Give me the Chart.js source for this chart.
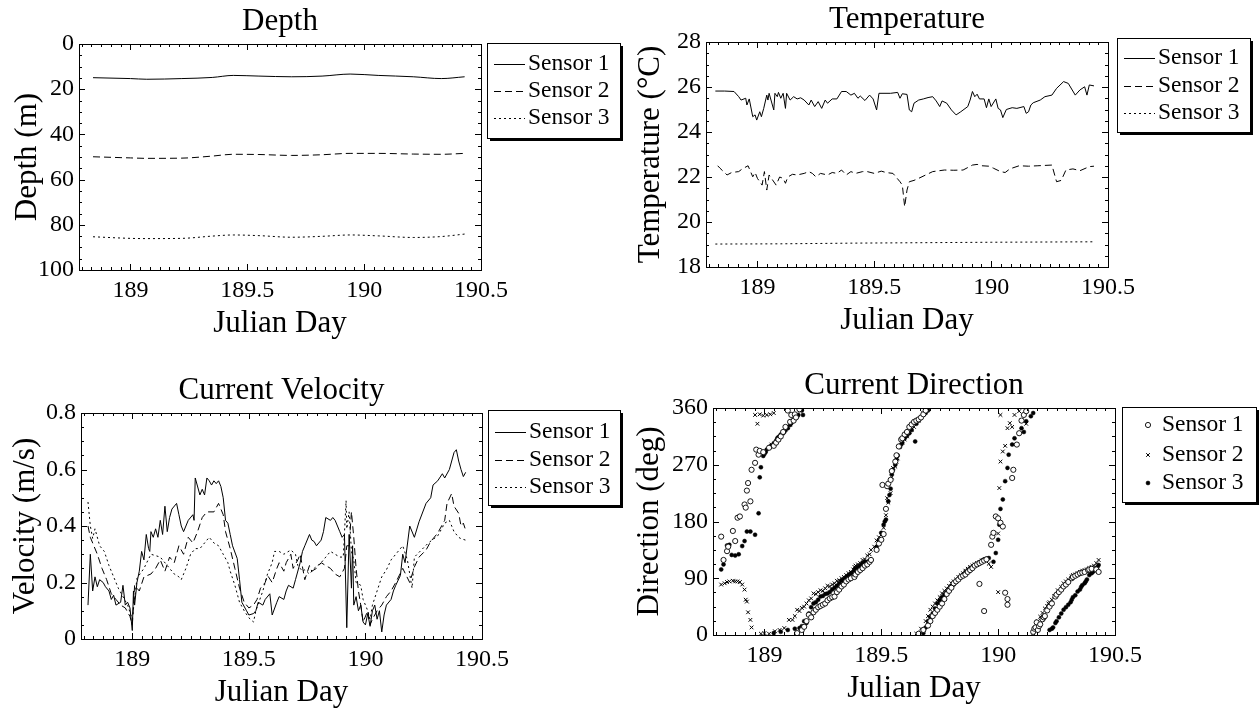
<!DOCTYPE html>
<html>
<head>
<meta charset="utf-8">
<title>Mooring sensors, Julian Day 189-190</title>
<script src="https://cdn.jsdelivr.net/npm/chart.js@4.4.1/dist/chart.umd.min.js"></script>
<style>
  html, body { margin: 0; padding: 0; background: #fff; }
  #wrap { position: relative; width: 1260px; height: 709px; background: #fff; }
  #wrap canvas { position: absolute; }
</style>
</head>
<body>
<div id="wrap">
  <canvas id="depth" width="630" height="354" style="left:0;top:0"></canvas>
  <canvas id="temp" width="630" height="354" style="left:630px;top:0"></canvas>
  <canvas id="speed" width="630" height="355" style="left:0;top:354px"></canvas>
  <canvas id="dir" width="630" height="355" style="left:630px;top:354px"></canvas>
</div>
<script>
// ---- axis ranges and tick labels ----
const dayMin = 188.78, dayMax = 190.5;
const dayTicks = [189, 189.5, 190, 190.5];
const depthTicks = [0, 20, 40, 60, 80, 100];
const tempTicks = [18, 20, 22, 24, 26, 28];
const speedTicks = [0, 0.2, 0.4, 0.6, 0.8];
const dirTicks = [0, 90, 180, 270, 360];
const sensorNames = ['Sensor 1', 'Sensor 2', 'Sensor 3'];

// ---- depth (m), smooth records ----
const depthDays = [188.84, 189.0, 189.07, 189.22, 189.35, 189.44, 189.55, 189.69, 189.82, 189.94, 190.06, 190.21, 190.33, 190.43];
const depthS1 = [14.9, 15.3, 15.6, 15.3, 14.8, 13.9, 14.2, 14.5, 14.2, 13.3, 13.9, 14.5, 15.3, 14.5];
const depthS2 = [49.9, 50.4, 50.6, 50.5, 49.6, 48.8, 48.9, 49.3, 49.0, 48.4, 48.4, 48.7, 48.8, 48.4];
const depthS3 = [85.3, 86.0, 86.1, 86.0, 85.0, 84.5, 84.8, 85.5, 85.1, 84.5, 84.9, 85.6, 85.2, 84.1];

// ---- temperature (deg C), [day, value] ----
const tempS1 = [
  [188.82, 25.82], [188.86, 25.82], [188.90, 25.80], [188.92, 25.57], [188.93, 25.42], [188.95, 25.50],
  [188.955, 25.20], [188.965, 25.47], [188.98, 24.68], [188.99, 24.76], [188.997, 24.53], [189.01, 24.90],
  [189.017, 24.68], [189.027, 25.05], [189.04, 25.64], [189.045, 25.42], [189.05, 25.72], [189.07, 24.98],
  [189.075, 25.72], [189.085, 25.57], [189.09, 25.76], [189.10, 25.50], [189.11, 25.72], [189.12, 25.05],
  [189.125, 25.72], [189.14, 25.42], [189.155, 25.57], [189.17, 25.47], [189.185, 25.52], [189.20, 25.42],
  [189.22, 25.20], [189.23, 25.42], [189.245, 25.13], [189.26, 25.35], [189.275, 25.05], [189.29, 25.42],
  [189.30, 25.28], [189.32, 25.47], [189.34, 25.47], [189.36, 25.80], [189.38, 25.80], [189.40, 25.64],
  [189.415, 25.72], [189.43, 25.50], [189.44, 25.60], [189.46, 25.40], [189.48, 25.64], [189.495, 25.47],
  [189.51, 24.98], [189.52, 25.72], [189.57, 25.72], [189.60, 25.76], [189.61, 25.50], [189.62, 25.70],
  [189.64, 25.67], [189.65, 24.98], [189.66, 24.90], [189.67, 25.28], [189.69, 25.42], [189.71, 25.47],
  [189.73, 25.53], [189.75, 25.57], [189.765, 25.38], [189.78, 25.13], [189.79, 25.38], [189.81, 25.28],
  [189.83, 24.98], [189.85, 24.76], [189.87, 24.90], [189.90, 25.13], [189.91, 25.42], [189.92, 25.80],
  [189.93, 25.57], [189.94, 25.68], [189.95, 25.47], [189.97, 25.47], [189.98, 25.08], [189.99, 25.47],
  [190.0, 25.13], [190.02, 25.47], [190.03, 25.05], [190.04, 24.98], [190.05, 24.64], [190.065, 25.00],
  [190.09, 25.08], [190.11, 25.05], [190.14, 25.13], [190.15, 24.83], [190.16, 24.90], [190.17, 25.20],
  [190.18, 25.30], [190.21, 25.42], [190.23, 25.57], [190.26, 25.64], [190.28, 25.94], [190.31, 26.24],
  [190.33, 26.16], [190.36, 25.64], [190.38, 25.87], [190.40, 26.01], [190.41, 25.64], [190.42, 26.09],
  [190.44, 26.05]
];
const tempS2 = [
  [188.83, 22.50], [188.84, 22.39], [188.87, 22.09], [188.89, 22.20], [188.92, 22.24], [188.935, 22.36],
  [188.96, 22.50], [188.98, 22.01], [188.99, 22.20], [189.0, 21.94], [189.02, 21.64], [189.03, 22.24],
  [189.04, 21.42], [189.05, 22.09], [189.06, 21.94], [189.08, 21.64], [189.095, 22.00], [189.11, 21.94],
  [189.12, 21.72], [189.13, 22.00], [189.15, 22.12], [189.17, 22.09], [189.20, 22.16], [189.22, 22.24],
  [189.235, 22.16], [189.25, 22.01], [189.27, 22.16], [189.30, 22.09], [189.32, 22.20], [189.34, 22.16],
  [189.36, 22.31], [189.38, 22.09], [189.40, 22.24], [189.42, 22.16], [189.45, 22.24], [189.47, 22.24],
  [189.50, 22.16], [189.53, 22.26], [189.55, 22.20], [189.58, 22.16], [189.61, 21.79], [189.62, 21.64],
  [189.63, 20.68], [189.64, 21.42], [189.65, 21.79], [189.67, 21.85], [189.69, 21.94], [189.72, 22.09],
  [189.75, 22.24], [189.80, 22.31], [189.84, 22.30], [189.88, 22.31], [189.92, 22.53], [189.94, 22.56],
  [189.96, 22.50], [189.99, 22.48], [190.01, 22.39], [190.04, 22.24], [190.06, 22.20], [190.08, 22.36],
  [190.12, 22.50], [190.16, 22.48], [190.20, 22.50], [190.26, 22.53], [190.28, 21.79], [190.30, 21.85],
  [190.32, 22.31], [190.35, 22.36], [190.38, 22.28], [190.42, 22.46], [190.44, 22.48]
];
const tempS3 = [[188.82, 19.02], [189.1, 19.03], [189.4, 19.06], [189.7, 19.08], [190.0, 19.10], [190.44, 19.12]];

// ---- current speed (m/s), [day, value] ----
const speedS1 = [
  [188.81, 0.12], [188.82, 0.30], [188.83, 0.17], [188.84, 0.22], [188.85, 0.185], [188.86, 0.21],
  [188.875, 0.20], [188.885, 0.185], [188.90, 0.17], [188.91, 0.14], [188.92, 0.155], [188.93, 0.12],
  [188.95, 0.13], [188.96, 0.19], [188.97, 0.12], [188.98, 0.13], [188.99, 0.11], [189.0, 0.03],
  [189.005, 0.17], [189.01, 0.12], [189.02, 0.20], [189.03, 0.24], [189.04, 0.31], [189.05, 0.28],
  [189.06, 0.37], [189.07, 0.32], [189.075, 0.31], [189.08, 0.38], [189.09, 0.36], [189.10, 0.39],
  [189.11, 0.36], [189.12, 0.42], [189.13, 0.37], [189.14, 0.47], [189.15, 0.38], [189.16, 0.43],
  [189.17, 0.46], [189.19, 0.48], [189.20, 0.44], [189.21, 0.40], [189.22, 0.38], [189.23, 0.40],
  [189.24, 0.42], [189.26, 0.44], [189.265, 0.42], [189.27, 0.57], [189.29, 0.51], [189.30, 0.53],
  [189.31, 0.51], [189.32, 0.57], [189.33, 0.56], [189.34, 0.545], [189.35, 0.56], [189.36, 0.55],
  [189.37, 0.56], [189.38, 0.54], [189.39, 0.50], [189.40, 0.42], [189.41, 0.41], [189.42, 0.37],
  [189.43, 0.33], [189.45, 0.285], [189.46, 0.21], [189.47, 0.13], [189.49, 0.10], [189.50, 0.085],
  [189.52, 0.09], [189.53, 0.10], [189.54, 0.13], [189.56, 0.12], [189.57, 0.14], [189.59, 0.16],
  [189.60, 0.085], [189.62, 0.13], [189.63, 0.15], [189.65, 0.14], [189.66, 0.17], [189.67, 0.19],
  [189.69, 0.18], [189.70, 0.21], [189.72, 0.27], [189.73, 0.31], [189.74, 0.33], [189.76, 0.37],
  [189.77, 0.35], [189.78, 0.345], [189.79, 0.33], [189.81, 0.35], [189.82, 0.38], [189.83, 0.43],
  [189.85, 0.42], [189.86, 0.43], [189.87, 0.42], [189.88, 0.40], [189.89, 0.38], [189.90, 0.36],
  [189.91, 0.37], [189.92, 0.04], [189.93, 0.37], [189.94, 0.18], [189.945, 0.33], [189.95, 0.12],
  [189.96, 0.15], [189.97, 0.10], [189.98, 0.12], [189.99, 0.06], [190.0, 0.05], [190.01, 0.09],
  [190.02, 0.045], [190.03, 0.10], [190.04, 0.12], [190.05, 0.07], [190.06, 0.10], [190.07, 0.025],
  [190.08, 0.085], [190.09, 0.12], [190.11, 0.14], [190.12, 0.17], [190.13, 0.19], [190.15, 0.225],
  [190.16, 0.30], [190.17, 0.27], [190.19, 0.40], [190.21, 0.36], [190.23, 0.415], [190.26, 0.48],
  [190.28, 0.50], [190.29, 0.545], [190.31, 0.56], [190.33, 0.585], [190.34, 0.57], [190.36, 0.60],
  [190.38, 0.66], [190.39, 0.67], [190.40, 0.63], [190.41, 0.60], [190.42, 0.575], [190.43, 0.59]
];
const speedS2 = [
  [188.81, 0.40], [188.82, 0.36], [188.835, 0.33], [188.85, 0.30], [188.87, 0.25], [188.89, 0.21],
  [188.91, 0.16], [188.93, 0.14], [188.95, 0.12], [188.97, 0.11], [188.99, 0.08], [189.0, 0.05],
  [189.01, 0.19], [189.03, 0.17], [189.05, 0.22], [189.08, 0.23], [189.10, 0.25], [189.12, 0.28],
  [189.14, 0.24], [189.16, 0.29], [189.18, 0.27], [189.20, 0.33], [189.22, 0.30], [189.24, 0.36],
  [189.26, 0.34], [189.28, 0.38], [189.30, 0.43], [189.32, 0.45], [189.35, 0.45], [189.37, 0.48],
  [189.39, 0.44], [189.40, 0.38], [189.42, 0.32], [189.44, 0.25], [189.46, 0.18], [189.48, 0.13],
  [189.50, 0.11], [189.52, 0.12], [189.535, 0.14], [189.55, 0.18], [189.57, 0.20], [189.58, 0.225],
  [189.60, 0.20], [189.62, 0.25], [189.63, 0.27], [189.65, 0.24], [189.66, 0.27], [189.68, 0.30],
  [189.69, 0.25], [189.71, 0.28], [189.72, 0.30], [189.74, 0.21], [189.76, 0.26], [189.77, 0.24],
  [189.79, 0.25], [189.81, 0.27], [189.83, 0.26], [189.85, 0.25], [189.87, 0.23], [189.89, 0.22],
  [189.91, 0.25], [189.92, 0.33], [189.93, 0.33], [189.94, 0.45], [189.95, 0.36], [189.96, 0.25],
  [189.97, 0.17], [189.98, 0.12], [189.99, 0.06], [190.01, 0.10], [190.02, 0.05], [190.03, 0.07],
  [190.05, 0.10], [190.07, 0.12], [190.09, 0.15], [190.11, 0.17], [190.13, 0.20], [190.16, 0.25],
  [190.19, 0.20], [190.21, 0.255], [190.23, 0.29], [190.26, 0.315], [190.28, 0.345], [190.31, 0.375],
  [190.34, 0.42], [190.35, 0.48], [190.37, 0.515], [190.38, 0.47], [190.40, 0.445], [190.41, 0.40],
  [190.42, 0.41], [190.43, 0.385]
];
const speedS3 = [
  [188.81, 0.485], [188.82, 0.40], [188.83, 0.356], [188.84, 0.39], [188.86, 0.33], [188.88, 0.31],
  [188.90, 0.26], [188.92, 0.22], [188.94, 0.18], [188.96, 0.15], [188.98, 0.12], [189.0, 0.07],
  [189.02, 0.215], [189.05, 0.25], [189.08, 0.30], [189.12, 0.29], [189.15, 0.26], [189.18, 0.23],
  [189.20, 0.22], [189.21, 0.21], [189.23, 0.25], [189.25, 0.30], [189.27, 0.32], [189.29, 0.32],
  [189.31, 0.34], [189.33, 0.36], [189.35, 0.34], [189.37, 0.33], [189.39, 0.30], [189.41, 0.27],
  [189.42, 0.24], [189.44, 0.19], [189.46, 0.13], [189.48, 0.10], [189.50, 0.075], [189.52, 0.06],
  [189.53, 0.10], [189.56, 0.17], [189.58, 0.23], [189.60, 0.27], [189.61, 0.31], [189.63, 0.31],
  [189.65, 0.30], [189.68, 0.315], [189.70, 0.30], [189.71, 0.26], [189.73, 0.24], [189.74, 0.245],
  [189.76, 0.23], [189.78, 0.25], [189.81, 0.27], [189.83, 0.29], [189.85, 0.31], [189.87, 0.30],
  [189.89, 0.29], [189.905, 0.29], [189.917, 0.49], [189.92, 0.39], [189.93, 0.45], [189.94, 0.31],
  [189.95, 0.28], [189.96, 0.20], [189.98, 0.19], [189.99, 0.14], [190.01, 0.10], [190.02, 0.07],
  [190.03, 0.12], [190.05, 0.17], [190.07, 0.22], [190.09, 0.245], [190.11, 0.28], [190.13, 0.30],
  [190.16, 0.33], [190.18, 0.28], [190.20, 0.18], [190.21, 0.29], [190.24, 0.315], [190.27, 0.34],
  [190.31, 0.365], [190.34, 0.41], [190.36, 0.42], [190.38, 0.38], [190.40, 0.36], [190.41, 0.355],
  [190.43, 0.35]
];

// ---- current direction (deg), [day, value] ----
const dirS1 = [
  [188.815, 156], [188.825, 119], [188.84, 133], [188.845, 140], [188.865, 165], [188.875, 149],
  [188.885, 186], [188.895, 188], [188.915, 207], [188.92, 202], [188.925, 229], [188.93, 241],
  [188.94, 212], [188.945, 262], [188.96, 273], [188.965, 294], [188.975, 286], [188.98, 292],
  [188.995, 290], [189.02, 297], [189.04, 300], [189.05, 305], [189.06, 310], [189.07, 315],
  [189.08, 322], [189.09, 330], [189.10, 356], [189.11, 338], [189.115, 349], [189.125, 340],
  [189.13, 350], [189.135, 345], [189.15, 358],
  [189.14, 3], [189.16, 8], [189.17, 13], [189.18, 22], [189.19, 32], [189.20, 28], [189.21, 36],
  [189.22, 40], [189.23, 44], [189.24, 46], [189.25, 48], [189.26, 50], [189.27, 55], [189.28, 58],
  [189.29, 60], [189.30, 61], [189.31, 68], [189.32, 72], [189.33, 77], [189.34, 80], [189.35, 85],
  [189.36, 88], [189.37, 90], [189.385, 92], [189.39, 96], [189.40, 100], [189.41, 103], [189.42, 106],
  [189.43, 110], [189.44, 112], [189.45, 116], [189.456, 119], [189.48, 135], [189.49, 145],
  [189.50, 151], [189.505, 238], [189.51, 160], [189.52, 200], [189.525, 236], [189.53, 240],
  [189.54, 246], [189.545, 260], [189.56, 275], [189.565, 285], [189.575, 299], [189.585, 310],
  [189.59, 312], [189.60, 318], [189.61, 322], [189.62, 330], [189.63, 334], [189.64, 338],
  [189.65, 340], [189.66, 342], [189.67, 345], [189.68, 350], [189.69, 356],
  [189.66, 2], [189.68, 8], [189.70, 15], [189.71, 22], [189.72, 30], [189.73, 35], [189.74, 40],
  [189.75, 45], [189.76, 50], [189.77, 57], [189.78, 65], [189.79, 70], [189.80, 75], [189.81, 82],
  [189.82, 85], [189.83, 88], [189.84, 92], [189.85, 94], [189.86, 96], [189.87, 100], [189.88, 103],
  [189.89, 106], [189.90, 110], [189.91, 112], [189.92, 114], [189.93, 116], [189.94, 118], [189.95, 120],
  [189.92, 81], [189.94, 38], [190.03, 67], [190.04, 57], [190.04, 48],
  [189.97, 143], [189.975, 156], [189.98, 162], [189.99, 188], [190.0, 185], [190.01, 178],
  [190.02, 172], [190.06, 249], [190.065, 262], [190.08, 302], [190.09, 320], [190.10, 340],
  [190.11, 349], [190.12, 355],
  [190.15, 5], [190.155, 10], [190.16, 12], [190.165, 20], [190.17, 8], [190.175, 14], [190.18, 17],
  [190.19, 25], [190.195, 28], [190.20, 30], [190.21, 39], [190.22, 45], [190.23, 50], [190.245, 61],
  [190.25, 64], [190.26, 68], [190.27, 72], [190.28, 77], [190.29, 80], [190.30, 84], [190.315, 90],
  [190.32, 92], [190.33, 94], [190.34, 96], [190.35, 98], [190.36, 99], [190.37, 100], [190.385, 103],
  [190.39, 104], [190.40, 105], [190.42, 104], [190.43, 100]
];
const dirS2 = [
  [188.815, 80], [188.83, 82], [188.84, 84], [188.85, 85], [188.865, 86], [188.875, 85], [188.885, 85],
  [188.895, 84], [188.905, 80], [188.915, 72], [188.92, 56], [188.925, 53], [188.93, 36], [188.94, 24],
  [188.945, 12],
  [188.96, 349], [188.97, 335], [188.98, 350], [188.995, 348], [189.01, 349], [189.025, 350], [189.04, 352],
  [189.03, 302], [189.06, 310], [189.07, 315], [189.08, 320], [189.09, 326], [189.10, 330], [189.11, 334],
  [189.12, 339], [189.13, 345], [189.14, 350],
  [188.985, 2], [189.0, 3], [189.02, 2], [189.045, 6], [189.065, 8], [189.085, 11], [189.105, 24],
  [189.12, 24], [189.13, 30], [189.14, 40], [189.15, 38], [189.16, 43], [189.17, 45], [189.18, 50],
  [189.19, 55], [189.20, 58], [189.21, 66], [189.22, 65], [189.23, 68], [189.24, 71], [189.25, 70],
  [189.26, 74], [189.27, 78], [189.28, 77], [189.29, 80], [189.30, 82], [189.31, 86], [189.32, 87],
  [189.33, 90], [189.34, 92], [189.35, 95], [189.36, 98], [189.37, 100], [189.38, 104], [189.385, 108],
  [189.39, 110], [189.40, 112], [189.41, 114], [189.42, 119], [189.43, 120], [189.44, 126],
  [189.45, 128], [189.456, 135], [189.47, 140], [189.48, 150], [189.49, 155], [189.50, 159],
  [189.51, 170], [189.52, 190], [189.525, 217], [189.53, 210], [189.54, 225], [189.545, 250],
  [189.55, 265], [189.56, 267], [189.565, 275], [189.57, 280], [189.58, 300], [189.59, 305],
  [189.60, 310], [189.61, 315], [189.62, 322], [189.63, 326], [189.64, 330], [189.65, 336],
  [189.66, 340], [189.67, 346], [189.68, 352], [189.69, 357],
  [189.65, 2], [189.67, 10], [189.69, 22], [189.70, 30], [189.71, 40], [189.72, 45], [189.73, 50],
  [189.74, 55], [189.75, 60], [189.76, 66], [189.77, 70], [189.78, 74], [189.79, 78], [189.80, 82],
  [189.81, 85], [189.82, 88], [189.83, 92], [189.84, 95], [189.85, 98], [189.86, 102], [189.87, 105],
  [189.88, 108], [189.89, 110], [189.90, 112], [189.91, 114], [189.92, 116], [189.93, 118],
  [189.94, 118], [189.96, 113], [189.97, 108],
  [190.0, 68],
  [190.0, 161], [190.005, 233], [190.01, 275], [190.02, 291], [190.03, 300], [190.04, 328],
  [190.05, 336], [190.06, 330], [190.07, 349], [190.09, 355], [190.01, 349], [190.10, 340], [190.12, 335],
  [190.15, 3], [190.165, 15], [190.17, 22], [190.18, 29], [190.19, 35], [190.20, 42], [190.21, 46],
  [190.215, 50], [190.22, 52], [190.23, 56], [190.24, 62], [190.255, 71], [190.27, 76], [190.28, 82],
  [190.29, 85], [190.30, 88], [190.315, 93], [190.32, 95], [190.33, 96], [190.34, 98], [190.35, 100],
  [190.36, 102], [190.37, 103], [190.38, 104], [190.39, 106], [190.40, 108], [190.41, 110],
  [190.42, 114], [190.43, 119]
];
const dirS3 = [
  [188.815, 104], [188.825, 112], [188.84, 142], [188.85, 143], [188.86, 127], [188.875, 126],
  [188.89, 128], [188.905, 141], [188.915, 149], [188.925, 164], [188.94, 164], [188.96, 159],
  [188.975, 193], [188.98, 250], [188.985, 266], [188.995, 284], [189.0, 287], [189.005, 290],
  [189.01, 294], [189.025, 299], [189.03, 300], [189.04, 304], [189.05, 308], [189.055, 312],
  [189.06, 314], [189.07, 318], [189.08, 320], [189.085, 322], [189.09, 325], [189.10, 328],
  [189.11, 333], [189.115, 336], [189.12, 340], [189.13, 344], [189.14, 346], [189.145, 349],
  [189.16, 356], [189.165, 349],
  [189.04, 3], [189.07, 5], [189.10, 8], [189.13, 10], [189.15, 11], [189.16, 14], [189.17, 22],
  [189.18, 19], [189.19, 34], [189.20, 44], [189.21, 50], [189.22, 52], [189.23, 56], [189.24, 61],
  [189.25, 62], [189.26, 65], [189.27, 66], [189.28, 68], [189.29, 72], [189.30, 75], [189.31, 78],
  [189.32, 82], [189.33, 86], [189.34, 88], [189.35, 92], [189.36, 95], [189.37, 98], [189.38, 100],
  [189.385, 103], [189.39, 106], [189.40, 108], [189.41, 110], [189.42, 114], [189.43, 116],
  [189.44, 116], [189.45, 118], [189.456, 119], [189.48, 140], [189.49, 150], [189.50, 162],
  [189.51, 175], [189.515, 180], [189.52, 183], [189.53, 212], [189.535, 222], [189.54, 232],
  [189.545, 255], [189.55, 262], [189.56, 270], [189.565, 278], [189.57, 285], [189.58, 298],
  [189.585, 302], [189.59, 305], [189.60, 312], [189.61, 316], [189.62, 320], [189.63, 325],
  [189.645, 307], [189.65, 335], [189.66, 340], [189.67, 345], [189.68, 349], [189.69, 352], [189.70, 356],
  [189.68, 3], [189.69, 12], [189.70, 22], [189.71, 28], [189.72, 34], [189.73, 42], [189.74, 50],
  [189.75, 55], [189.76, 60], [189.77, 64], [189.78, 68], [189.79, 72], [189.80, 78], [189.81, 80],
  [189.82, 84], [189.83, 88], [189.84, 92], [189.85, 96], [189.86, 100], [189.87, 103], [189.88, 106],
  [189.89, 108], [189.90, 110], [189.91, 112], [189.92, 115], [189.93, 118], [189.94, 120],
  [189.95, 121], [189.96, 122], [189.98, 116],
  [189.99, 130], [190.0, 151], [190.005, 175], [190.01, 200], [190.02, 215], [190.03, 244],
  [190.04, 265], [190.045, 286], [190.06, 302], [190.07, 312], [190.09, 320], [190.10, 328],
  [190.11, 322], [190.12, 339], [190.14, 347], [190.15, 352],
  [190.22, 8], [190.23, 10], [190.235, 12], [190.245, 19], [190.25, 22], [190.26, 28], [190.27, 34],
  [190.28, 40], [190.29, 44], [190.30, 48], [190.31, 52], [190.315, 56], [190.32, 60], [190.33, 63],
  [190.34, 69], [190.35, 72], [190.355, 76], [190.36, 79], [190.37, 82], [190.375, 85], [190.38, 88],
  [190.39, 95], [190.40, 98], [190.405, 100], [190.41, 102], [190.42, 106], [190.425, 108], [190.43, 111]
];

// ---- drawing ----
const serif = "'Liberation Serif', 'Times New Roman', Times, serif";
Chart.defaults.font.family = serif;
Chart.defaults.color = '#000';
const tickFont = 24, titleFont = 31, legendFont = 23.5;

// hourly minor ticks along the day axis
const hourTicks = [];
for (let h = Math.ceil(dayMin * 24); h <= Math.floor(dayMax * 24); h++) hourTicks.push(h / 24);

function steps(lo, hi, step) {
  const out = [];
  for (let v = lo; v <= hi + 1e-9; v += step) out.push(+v.toFixed(6));
  return out;
}

// box, inward ticks, titles and the shadowed legend
const framePlugin = {
  id: 'frame',
  afterDraw(chart, args, opts) {
    const { ctx, chartArea: a, scales: { x, y } } = chart;
    ctx.save();
    ctx.strokeStyle = '#000';
    ctx.fillStyle = '#000';
    ctx.lineWidth = 1;
    ctx.strokeRect(Math.round(a.left) + 0.5, Math.round(a.top) + 0.5,
      Math.round(a.right - a.left), Math.round(a.bottom - a.top));

    ctx.beginPath();
    const xMarks = (vals, len) => vals.forEach(v => {
      const px = Math.round(x.getPixelForValue(v)) + 0.5;
      if (px < a.left || px > a.right + 1) return;
      ctx.moveTo(px, a.bottom); ctx.lineTo(px, a.bottom - len);
      ctx.moveTo(px, a.top); ctx.lineTo(px, a.top + len);
    });
    const yMarks = (vals, len) => vals.forEach(v => {
      const py = Math.round(y.getPixelForValue(v)) + 0.5;
      ctx.moveTo(a.left, py); ctx.lineTo(a.left + len, py);
      ctx.moveTo(a.right, py); ctx.lineTo(a.right - len, py);
    });
    xMarks(hourTicks, 3);
    xMarks(dayTicks, 6);
    yMarks(opts.yMinor, 3);
    yMarks(opts.yMajor, 6);
    ctx.stroke();

    const cx = (a.left + a.right) / 2;
    ctx.textAlign = 'center';
    ctx.textBaseline = 'middle';
    ctx.font = `${titleFont}px ${serif}`;
    ctx.fillText(opts.title, cx, a.top - 22);
    ctx.fillText('Julian Day', cx, a.bottom + 54);
    ctx.save();
    ctx.translate(opts.yTitleX, (a.top + a.bottom) / 2);
    ctx.rotate(-Math.PI / 2);
    ctx.fillText(opts.yTitle, 0, 0);
    ctx.restore();

    const L = opts.legend;
    ctx.fillRect(L.x + 3, L.y + 3, L.w, L.h);
    ctx.fillStyle = '#fff';
    ctx.fillRect(L.x, L.y, L.w, L.h);
    ctx.strokeRect(L.x + 0.5, L.y + 0.5, L.w, L.h);
    ctx.font = `${legendFont}px ${serif}`;
    ctx.textAlign = 'left';
    chart.data.datasets.forEach((ds, i) => {
      const ry = L.rows[i];
      if (L.markers) {
        ctx.fillStyle = ds.pointBackgroundColor;
        ctx.strokeStyle = ds.pointBorderColor;
        ctx.lineWidth = ds.pointBorderWidth;
        Chart.helpers.drawPoint(ctx, {
          pointStyle: ds.pointStyle, radius: ds.pointRadius,
          borderWidth: ds.pointBorderWidth, rotation: 0
        }, L.mark, ry);
      } else {
        ctx.strokeStyle = ds.borderColor;
        ctx.lineWidth = ds.borderWidth;
        ctx.setLineDash(ds.borderDash || []);
        ctx.beginPath();
        ctx.moveTo(L.x1, ry + 0.5);
        ctx.lineTo(L.x2, ry + 0.5);
        ctx.stroke();
        ctx.setLineDash([]);
      }
      ctx.fillStyle = '#000';
      ctx.fillText(ds.label, L.text, ry);
    });
    ctx.restore();
  }
};

const lineStyles = [
  { borderDash: [] },
  { borderDash: [7, 4] },
  { borderDash: [2, 3] }
];

function lineSet(series, smooth) {
  return series.map((pts, i) => ({
    label: sensorNames[i],
    data: pts.map(([d, v]) => ({ x: d, y: v })),
    borderColor: '#000',
    borderWidth: 1,
    borderDash: lineStyles[i].borderDash,
    pointRadius: 0,
    fill: false,
    cubicInterpolationMode: smooth ? 'monotone' : 'default',
    tension: 0
  }));
}

function makeChart(id, type, datasets, p) {
  return new Chart(document.getElementById(id), {
    type,
    data: { datasets },
    plugins: [framePlugin],
    options: {
      responsive: false,
      animation: false,
      devicePixelRatio: 1,
      layout: { padding: { left: 0, top: p.top, right: p.right, bottom: 0 } },
      plugins: {
        legend: { display: false },
        tooltip: { enabled: false },
        frame: p
      },
      scales: {
        x: {
          type: 'linear',
          min: dayMin,
          max: dayMax,
          grid: { display: false, drawTicks: false },
          border: { display: false },
          ticks: { font: { size: tickFont }, color: '#000', padding: 6, autoSkip: false, maxRotation: 0,
            callback: v => String(v) },
          afterBuildTicks: s => { s.ticks = dayTicks.map(v => ({ value: v })); },
          afterFit: s => { s.height = p.xAxisH; }
        },
        y: {
          type: 'linear',
          min: p.yMajor[0],
          max: p.yMajor[p.yMajor.length - 1],
          reverse: !!p.reverse,
          grid: { display: false, drawTicks: false },
          border: { display: false },
          ticks: { font: { size: tickFont }, color: '#000', padding: 5, autoSkip: false,
            callback: v => String(v) },
          afterBuildTicks: s => { s.ticks = p.yMajor.map(v => ({ value: v })); },
          afterFit: s => { s.width = p.left; }
        }
      }
    }
  });
}

const depthPts = [depthS1, depthS2, depthS3].map(s => s.map((v, i) => [depthDays[i], v]));

makeChart('depth', 'line', lineSet(depthPts, true), {
  title: 'Depth', yTitle: 'Depth (m)', yTitleX: 28,
  left: 79, top: 44, right: 149, xAxisH: 84, reverse: true,
  yMajor: depthTicks, yMinor: steps(0, 100, 5),
  legend: { x: 487, y: 43, w: 133, h: 95, rows: [64, 91, 118], x1: 494, x2: 525, text: 528 }
});

makeChart('temp', 'line', lineSet([tempS1, tempS2, tempS3], false), {
  title: 'Temperature', yTitle: 'Temperature (°C)', yTitleX: 21,
  left: 76, top: 42, right: 152, xAxisH: 87,
  yMajor: tempTicks, yMinor: steps(18, 28, 0.5),
  legend: { x: 487, y: 38, w: 133, h: 94, rows: [58, 86, 113], x1: 494, x2: 525, text: 528 }
});

makeChart('speed', 'line', lineSet([speedS1, speedS2, speedS3], false), {
  title: 'Current Velocity', yTitle: 'Velocity (m/s)', yTitleX: 26,
  left: 81, top: 59, right: 148, xAxisH: 70,
  yMajor: speedTicks, yMinor: steps(0, 0.8, 0.05),
  legend: { x: 488, y: 56, w: 132, h: 95, rows: [78, 106, 133], x1: 495, x2: 526, text: 529 }
});

const markerStyles = [
  { pointStyle: 'circle', pointRadius: 2.6, pointBackgroundColor: '#fff', pointBorderColor: '#000', pointBorderWidth: 0.9 },
  { pointStyle: 'crossRot', pointRadius: 2.6, pointBackgroundColor: '#000', pointBorderColor: '#000', pointBorderWidth: 1 },
  { pointStyle: 'circle', pointRadius: 2.0, pointBackgroundColor: '#000', pointBorderColor: '#000', pointBorderWidth: 0.5 }
];

const dirSets = [dirS1, dirS2, dirS3].map((pts, i) => Object.assign({
  label: sensorNames[i],
  data: pts.map(([d, v]) => ({ x: d, y: v })),
  showLine: false
}, markerStyles[i]));

makeChart('dir', 'scatter', dirSets, {
  title: 'Current Direction', yTitle: 'Direction (deg)', yTitleX: 20,
  left: 83, top: 54, right: 145, xAxisH: 74,
  yMajor: dirTicks, yMinor: steps(0, 360, 22.5),
  legend: { x: 492, y: 53, w: 134, h: 95, rows: [71, 101, 129], markers: true, mark: 518, text: 532 }
});
</script>
</body>
</html>
